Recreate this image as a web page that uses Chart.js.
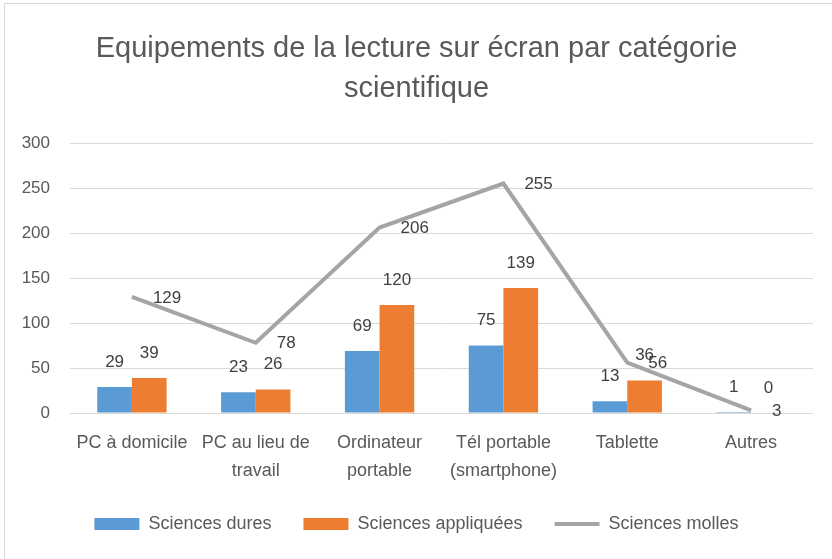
<!DOCTYPE html>
<html lang="fr">
<head>
<meta charset="utf-8">
<title>Equipements de la lecture sur écran</title>
<script src="https://cdn.jsdelivr.net/npm/chart.js"></script>
<style>
    html, body { margin: 0; padding: 0; background: #fff; overflow: hidden; }
    #cadre { position: absolute; left: 4px; top: 3px; right: 0; bottom: 0; border-left: 1px solid #d9d9d9; border-top: 1px solid #d9d9d9; }
    #zone { position: absolute; left: 0; top: 0; width: 832px; height: 559px; }
</style>
</head>
<body>
<div id="cadre"></div>
<div id="zone"><canvas id="graphique"></canvas></div>
<script>
// Données
const categories = ['PC à domicile', ['PC au lieu de', 'travail'], ['Ordinateur', 'portable'], ['Tél portable', '(smartphone)'], 'Tablette', 'Autres'];
const sciencesDures = [29, 23, 69, 75, 13, 1];
const sciencesAppliquees = [39, 26, 120, 139, 36, 0];
const sciencesMolles = [129, 78, 206, 255, 56, 3];
const graduationsY = [0, 50, 100, 150, 200, 250, 300];

const police = '"Liberation Sans", Arial, sans-serif';
Chart.defaults.font.family = police;

// Etiquettes de valeurs (au-dessus des barres, à droite des points de la courbe)
const etiquettes = {
    id: 'etiquettes',
    afterDatasetsDraw(chart) {
        const ctx = chart.ctx;
        ctx.save();
        ctx.font = '17px ' + police;
        ctx.fillStyle = '#404040';
        ctx.textBaseline = 'middle';
        chart.data.datasets.forEach((ds, i) => {
            chart.getDatasetMeta(i).data.forEach((el, j) => {
                const valeur = ds.data[j];
                if (ds.type === 'line') {
                    ctx.textAlign = 'left';
                    ctx.fillText(valeur, el.x + 21, el.y + 1);
                } else {
                    ctx.textAlign = 'center';
                    ctx.fillText(valeur, el.x, el.y - 25);
                }
            });
        });
        ctx.restore();
    }
};

new Chart(document.getElementById('graphique'), {
    type: 'bar',
    data: {
        labels: categories,
        datasets: [
            { label: 'Sciences dures', data: sciencesDures, backgroundColor: '#5B9BD5', borderWidth: 0 },
            { label: 'Sciences appliquées', data: sciencesAppliquees, backgroundColor: '#ED7D31', borderWidth: 0 },
            { type: 'line', label: 'Sciences molles', data: sciencesMolles, borderColor: '#A5A5A5', backgroundColor: '#A5A5A5',
              borderWidth: 4, pointRadius: 0, tension: 0, fill: false }
        ]
    },
    options: {
        responsive: true,
        maintainAspectRatio: false,
        animation: false,
        categoryPercentage: 0.56,
        barPercentage: 1,
        layout: { padding: { left: 20, right: 19, top: 0, bottom: 16 } },
        scales: {
            x: {
                grid: { display: false, drawTicks: false },
                border: { display: false },
                ticks: { color: '#595959', font: { size: 18, lineHeight: 28 / 18 }, padding: 16, maxRotation: 0, autoSkip: false },
                afterFit: s => { s.height = 70; }
            },
            y: {
                min: graduationsY[0],
                max: graduationsY[graduationsY.length - 1],
                grid: { color: '#d9d9d9', drawTicks: false },
                border: { display: false },
                ticks: { stepSize: graduationsY[1] - graduationsY[0], color: '#595959', font: { size: 17 }, padding: 20 },
                afterFit: s => { s.width = 50; }
            }
        },
        plugins: {
            title: {
                display: true,
                text: ['Equipements de la lecture sur écran par catégorie', 'scientifique'],
                color: '#595959',
                font: { size: 29, weight: 'normal', lineHeight: 40 / 29 },
                padding: { top: 29, bottom: 34 }
            },
            legend: {
                position: 'bottom',
                labels: {
                    usePointStyle: true,
                    pointStyleWidth: 45,
                    boxHeight: 12,
                    padding: 32,
                    color: '#595959',
                    font: { size: 18 },
                    generateLabels: chart => {
                        const items = Chart.defaults.plugins.legend.labels.generateLabels(chart);
                        items.forEach(it => {
                            it.pointStyle = chart.data.datasets[it.datasetIndex].type === 'line' ? 'line' : 'rect';
                        });
                        return items;
                    }
                }
            },
            tooltip: { enabled: false }
        }
    },
    plugins: [etiquettes]
});
</script>
</body>
</html>
